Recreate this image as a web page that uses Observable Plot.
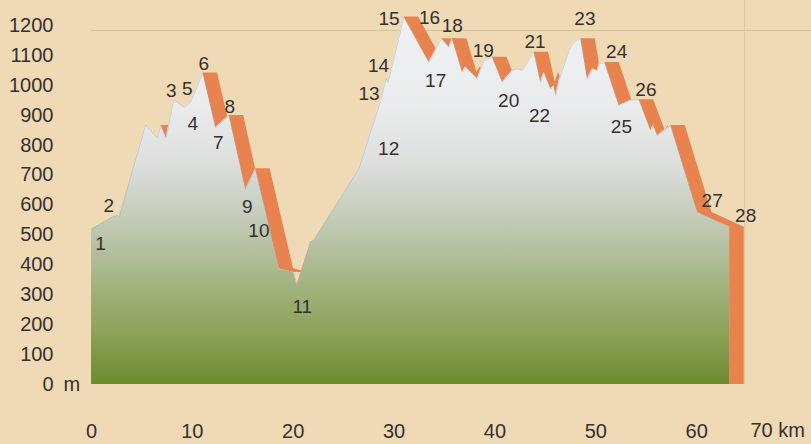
<!DOCTYPE html>
<html><head><meta charset="utf-8">
<script src="https://cdn.jsdelivr.net/npm/d3@7"></script>
<script src="https://cdn.jsdelivr.net/npm/@observablehq/plot@0.6"></script>
<style>html,body{margin:0;padding:0;background:#efdab5;} #chart{width:811px;height:444px;overflow:hidden}</style>
</head><body><div id="chart"></div>
<script>
// Elevation profile (km along route, metres)
const profileKm = [0, 2.05, 2.55, 2.73, 5.36, 6.52, 6.89, 7.39, 8.16, 9.22,
  9.82, 11.04, 12.30, 13.64, 15.27, 16.26, 18.58, 20.06, 20.36, 21.72,
  22.05, 26.51, 28.68, 29.06, 29.26, 29.41, 30.97, 33.45, 34.71, 35.44,
  35.77, 36.76, 37.09, 38.25, 38.91, 39.74, 40.73, 41.72, 42.22, 42.71,
  43.87, 44.53, 44.86, 45.52, 45.85, 46.02, 46.35, 47.34, 47.83, 48.50,
  49.16, 49.66, 50.16, 50.32, 50.88, 52.30, 53.46, 54.28, 55.44, 55.71,
  56.10, 57.42, 60.07, 63.27, 63.27];
const profileElev = [520, 559, 565, 558, 867, 824, 866, 824, 951, 926,
  943, 1041, 859, 899, 652, 721, 387, 374, 331, 476,
  481, 721, 949, 1003, 1023, 1009, 1228, 1077, 1156, 1127,
  1156, 1044, 1061, 1022, 1083, 1094, 1010, 1050, 1055, 1050,
  1111, 1010, 1044, 988, 999, 966, 1016, 1116, 1144, 1156,
  1022, 1055, 1050, 1072, 1076, 933, 950, 952, 849, 866,
  832, 866, 575, 526, 0];
// Highlighted descents: [first index, last index] into the profile
const descents = [[6,7],[11,12],[13,14],[15,17],[26,27],[28,29],[30,33],[35,36],[40,45],[49,50],[54,55],[57,60],[61,64]];
const bandWidthKm = 1.45;

// Waypoint numbers
const labelText = ["1","2","3","4","5","6","7","8","9","10","11","12","13","14","15","16","17","18","19","20","21","22","23","24","25","26","27","28"];
const labelKm   = [0.89, 1.72, 7.90, 10.05, 9.49, 11.14, 12.57, 13.72, 15.44, 16.60, 20.90, 29.46, 27.52, 28.46, 29.50, 33.52, 34.12, 35.77, 38.85, 41.36, 43.98, 44.43, 48.92, 52.07, 52.54, 54.97, 61.54, 64.86];
const labelElev = [470, 598, 980, 871, 988, 1070, 807, 927, 593, 515, 258, 789, 973, 1066, 1223, 1225, 1016, 1200, 1116, 948, 1145, 897, 1223, 1111, 862, 986, 615, 565];

const yTicks = [0,100,200,300,400,500,600,700,800,900,1000,1100,1200];
const xTicks = [0,10,20,30,40,50,60];

const orange = "#e8834f";
const textColor = "#363030";
const bg = "#efdab5";

const profile = profileKm.map((km, i) => ({km, elev: profileElev[i]}));
const bands = descents.map(([a, b]) => profile.slice(a, b + 1));
const labels = labelText.map((t, i) => ({t, km: labelKm[i], elev: labelElev[i]}));

const defs = () => {
  const d = d3.create("svg:defs");
  const g = d.append("linearGradient").attr("id", "elevGrad")
    .attr("x1", 0).attr("y1", 0).attr("x2", 0).attr("y2", 1);
  [[0, "#f0f1f3"], [0.25, "#e9ebec"], [0.4, "#dcdfdc"], [0.55, "#c3cbb8"],
   [0.7, "#a8b789"], [0.85, "#8ea45c"], [1, "#6e8a2e"]]
    .forEach(([o, c]) => g.append("stop").attr("offset", o).attr("stop-color", c));
  return d.node();
};

const chart = Plot.plot({
  width: 811,
  height: 444,
  marginLeft: 91,
  marginRight: 14,
  marginTop: 25,
  marginBottom: 60,
  style: {fontFamily: "'Liberation Sans', Arial, sans-serif", background: bg, color: textColor},
  x: {domain: [0, 70], label: null},
  y: {domain: [0, 1200], label: null},
  marks: [
    defs,
    Plot.ruleY([1200], {x1: () => 0, x2: () => 71.4, dy: 5, stroke: "#d6c29c", strokeWidth: 1}),
    Plot.ruleX([64.76], {y1: () => 0, y2: () => 1290, stroke: "#d9c6a3", strokeWidth: 1}),
    ...bands.map(b => Plot.areaX(b, {y: "elev", x1: "km", x2: d => d.km + bandWidthKm, fill: orange})),
    Plot.areaY(profile, {x: "km", y1: 0, y2: "elev", fill: "url(#elevGrad)"}),
    Plot.lineY(profile.slice(0, profile.length - 1), {x: "km", y: "elev", stroke: "#aab0c0", strokeWidth: 0.8, strokeOpacity: 0.6}),
    Plot.text(labels, {x: "km", y: "elev", text: "t", fontSize: 19, fill: textColor}),
    Plot.axisY({ticks: yTicks, tickFormat: d => String(d), tickSize: 0, tickPadding: 38, fontSize: 20, label: null}),
    Plot.text(["m"], {x: () => 0, y: () => 0, text: d => d, dx: -28, textAnchor: "start", fontSize: 20, fill: textColor}),
    Plot.axisX({ticks: xTicks, tickFormat: d => String(d), tickSize: 0, tickPadding: 39, fontSize: 20, label: null}),
    Plot.text(["70 km"], {x: () => 70, y: () => 0, text: d => d, dx: -47, dy: 46.5, textAnchor: "start", fontSize: 20, fill: textColor})
  ]
});
document.getElementById("chart").appendChild(chart);
</script>
</body></html>
